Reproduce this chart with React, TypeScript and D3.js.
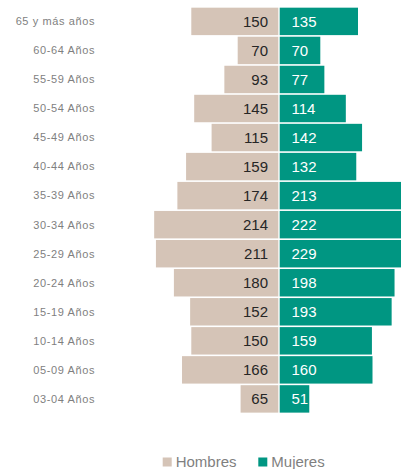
import React from "react";
import * as d3 from "d3";

const categories = [
  "65 y más años", "60-64 Años", "55-59 Años", "50-54 Años", "45-49 Años",
  "40-44 Años", "35-39 Años", "30-34 Años", "25-29 Años", "20-24 Años",
  "15-19 Años", "10-14 Años", "05-09 Años", "03-04 Años",
];
const hombres = [150, 70, 93, 145, 115, 159, 174, 214, 211, 180, 152, 150, 166, 65];
const mujeres = [135, 70, 77, 114, 142, 132, 213, 222, 229, 198, 193, 159, 160, 51];
const seriesNames = ["Hombres", "Mujeres"];
const seriesColors = ["#d5c4b7", "#009682"];

const width = 401;
const height = 469;
const center = 279;

export default function App() {
  const y = d3.scaleBand().domain(categories).range([6.8, 413.5]).paddingInner(0.055).paddingOuter(0.03);
  const x = d3.scaleLinear().domain([0, 100]).range([0, 58]);
  const font = "Arial, 'Liberation Sans', sans-serif";

  return (
    <svg width={width} height={height} style={{ position: "absolute", left: 0, top: 0, fontFamily: font }}>
      {categories.map((c, i) => {
        const yy = y(c)!;
        const bh = y.bandwidth();
        const cy = yy + bh / 2;
        return (
          <g key={c}>
            <text x={95} y={cy} dy="0.35em" textAnchor="end" fontSize={11} letterSpacing={0.6} fill="#7f7f7f">{c}</text>
            <rect x={center - 0.7 - x(hombres[i])} y={yy} width={x(hombres[i])} height={bh} fill={seriesColors[0]} />
            <rect x={center + 0.7} y={yy} width={x(mujeres[i])} height={bh} fill={seriesColors[1]} />
            <text x={center - 11} y={cy} dy="0.36em" textAnchor="end" fontSize={15} fill="#262626">{hombres[i]}</text>
            <text x={center + 12.5} y={cy} dy="0.36em" fontSize={15} fill="#ffffff">{mujeres[i]}</text>
          </g>
        );
      })}
      {seriesNames.map((n, i) => {
        const lx = [162.7, 258.3][i];
        return (
          <g key={n}>
            <rect x={lx} y={457.5} width={9} height={9} fill={seriesColors[i]} />
            <text x={lx + 13} y={466.5} fontSize={15} fill="#7f7f7f">{n}</text>
          </g>
        );
      })}
    </svg>
  );
}
